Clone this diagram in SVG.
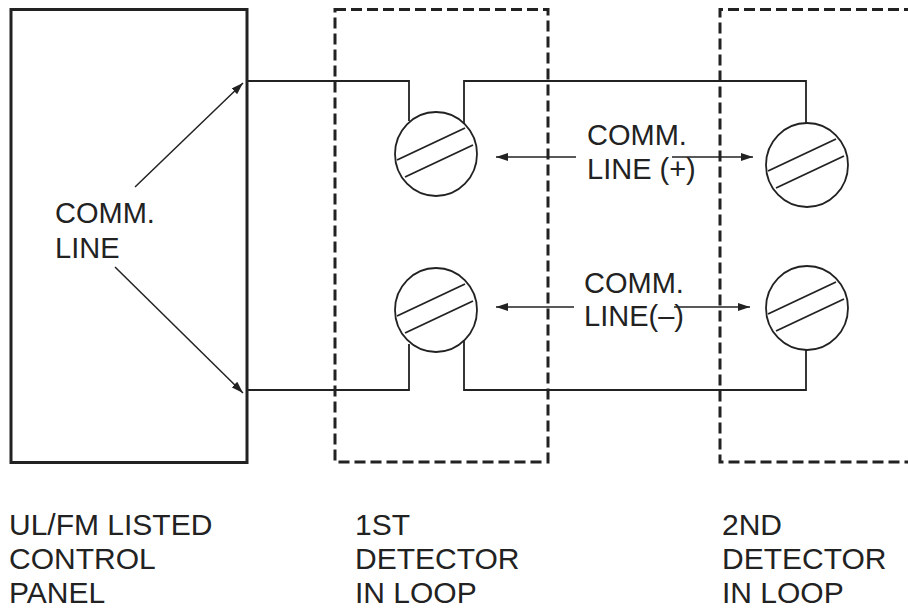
<svg xmlns="http://www.w3.org/2000/svg" width="908" height="608" viewBox="0 0 908 608">
<style>
text{font-family:"Liberation Sans",Arial,sans-serif;fill:#222;}
.lbl{font-size:29px;}
.cap{font-size:30px;}
.wire{fill:none;stroke:#222;stroke-width:1.8;}
.dash{fill:none;stroke:#222;stroke-width:3;stroke-dasharray:11 5;}
.term{fill:#fff;stroke:#222;stroke-width:1.8;}
.arr{fill:none;stroke:#222;stroke-width:1.5;}
</style>
<defs>
<marker id="ah" viewBox="0 0 12 8" refX="12" refY="4" markerWidth="12" markerHeight="8" markerUnits="userSpaceOnUse" orient="auto-start-reverse">
<path d="M0,0 L12,4 L0,8 Z" fill="#222"/>
</marker>
<g id="screw">
<ellipse cx="0" cy="0" rx="41" ry="42" class="term"/>
<line x1="-39" y1="6" x2="29" y2="-26" class="wire"/>
<line x1="-31" y1="23" x2="37" y2="-9" class="wire"/>
</g>
</defs>
<rect width="908" height="608" fill="#fff"/>
<g id="connectors">
<polyline class="wire" points="247,81 409,81 409,121"/>
<polyline class="wire" points="464,127 464,81 806,81 806,123"/>
<polyline class="wire" points="247,390 409,390 409,344"/>
<polyline class="wire" points="464,339 464,390 806,390 806,350"/>
<line class="arr" x1="135" y1="187" x2="243" y2="83" marker-end="url(#ah)"/>
<line class="arr" x1="115" y1="267" x2="243" y2="393" marker-end="url(#ah)"/>
<line class="arr" x1="496" y1="157" x2="576" y2="157" marker-start="url(#ah)"/>
<line class="arr" x1="672" y1="157" x2="753" y2="157" marker-end="url(#ah)"/>
<line class="arr" x1="496" y1="307" x2="574" y2="307" marker-start="url(#ah)"/>
<line class="arr" x1="674" y1="307" x2="750" y2="307" marker-end="url(#ah)"/>
</g>
<g id="panel">
<rect x="11" y="9.5" width="236" height="453" fill="none" stroke="#222" stroke-width="3"/>
<text class="lbl" x="55" y="223">COMM.</text>
<text class="lbl" x="55" y="258">LINE</text>
<text class="cap" x="9" y="535">UL/FM LISTED</text>
<text class="cap" x="9" y="569">CONTROL</text>
<text class="cap" x="9" y="603">PANEL</text>
</g>
<g id="detector1">
<rect x="335" y="9.5" width="213" height="452.5" class="dash"/>
<use href="#screw" x="436" y="154"/>
<use href="#screw" x="436" y="310"/>
<text class="cap" x="355" y="535">1ST</text>
<text class="cap" x="355" y="569">DETECTOR</text>
<text class="cap" x="355" y="603">IN LOOP</text>
</g>
<g id="detector2">
<polyline points="915,9.5 720,9.5 720,462 915,462" class="dash"/>
<use href="#screw" x="807" y="165"/>
<use href="#screw" x="807" y="308"/>
<text class="cap" x="722" y="535">2ND</text>
<text class="cap" x="722" y="569">DETECTOR</text>
<text class="cap" x="722" y="603">IN LOOP</text>
</g>
<g id="labels">
<text class="lbl" x="587" y="145">COMM.</text>
<text class="lbl" x="587" y="179">LINE (+)</text>
<text class="lbl" x="584" y="293">COMM.</text>
<text class="lbl" x="584" y="326">LINE(–)</text>
</g>
</svg>
